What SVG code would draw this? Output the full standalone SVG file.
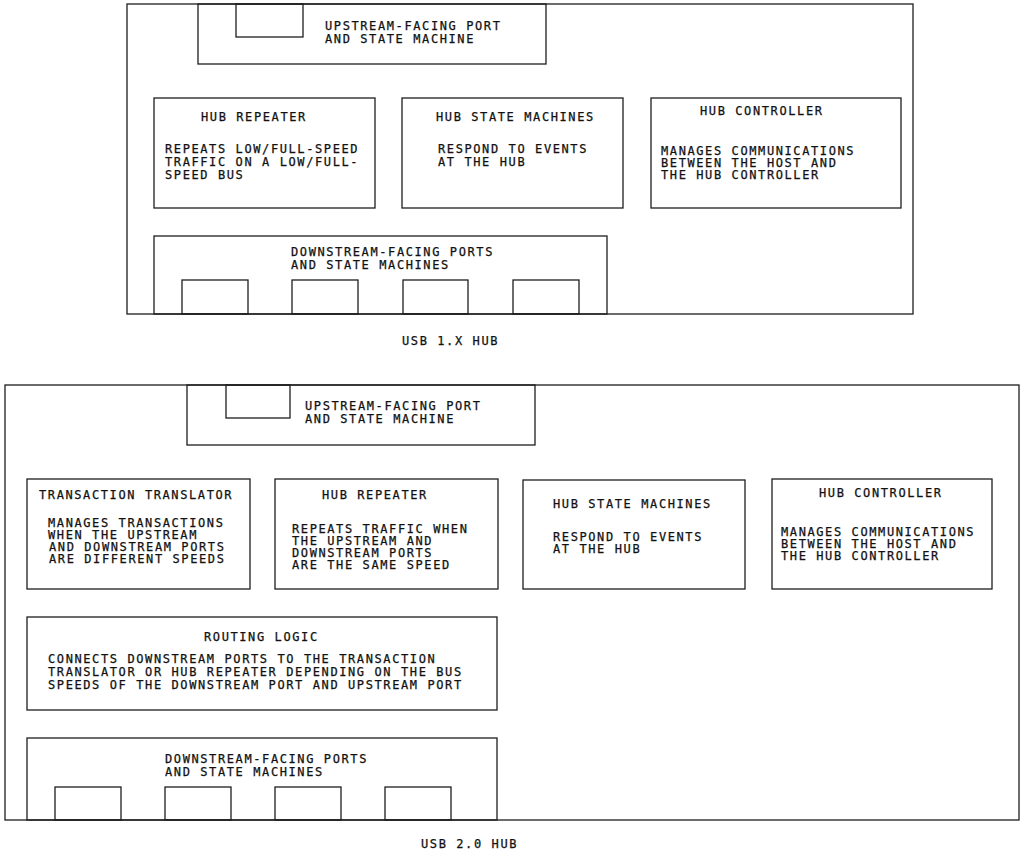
<svg xmlns="http://www.w3.org/2000/svg" width="1021" height="853" viewBox="0 0 1021 853">
<style>
rect{fill:none;stroke:#1e1e1e;stroke-width:1.3}
text{font-family:"DejaVu Sans Mono","Liberation Mono",monospace;font-size:12px;letter-spacing:1.6px;fill:#111;stroke:#111;stroke-width:0.25}
</style>
<rect x="0" y="0" width="1021" height="853" style="fill:#fff;stroke:none"/>
<g id="usb1-hub">
  <rect x="127" y="4" width="786" height="310"/>
  <g id="usb1-upstream">
    <rect x="198" y="4" width="348" height="60"/>
    <rect x="236" y="4" width="67" height="33"/>
    <text x="325" y="30">UPSTREAM-FACING PORT</text>
    <text x="325" y="43">AND STATE MACHINE</text>
  </g>
  <g id="usb1-repeater">
    <rect x="154" y="98" width="221" height="110"/>
    <text x="201" y="121">HUB REPEATER</text>
    <text x="165" y="153">REPEATS LOW/FULL-SPEED</text>
    <text x="165" y="166">TRAFFIC ON A LOW/FULL-</text>
    <text x="165" y="179">SPEED BUS</text>
  </g>
  <g id="usb1-state">
    <rect x="402" y="98" width="221" height="110"/>
    <text x="436" y="121">HUB STATE MACHINES</text>
    <text x="438" y="153">RESPOND TO EVENTS</text>
    <text x="438" y="166">AT THE HUB</text>
  </g>
  <g id="usb1-controller">
    <rect x="651" y="98" width="250" height="110"/>
    <text x="700" y="115">HUB CONTROLLER</text>
    <text x="661" y="155">MANAGES COMMUNICATIONS</text>
    <text x="661" y="167">BETWEEN THE HOST AND</text>
    <text x="661" y="179">THE HUB CONTROLLER</text>
  </g>
  <g id="usb1-downstream">
    <rect x="154" y="236" width="453" height="78"/>
    <text x="291" y="256">DOWNSTREAM-FACING PORTS</text>
    <text x="291" y="269">AND STATE MACHINES</text>
    <rect x="182" y="280" width="66" height="34"/>
    <rect x="292" y="280" width="66" height="34"/>
    <rect x="403" y="280" width="65" height="34"/>
    <rect x="513" y="280" width="66" height="34"/>
  </g>
  <text id="usb1-label" x="402" y="345">USB 1.X HUB</text>
</g>
<g id="usb2-hub">
  <rect x="5" y="385" width="1014" height="435"/>
  <g id="usb2-upstream">
    <rect x="187" y="385" width="348" height="60"/>
    <rect x="226" y="385" width="64" height="33"/>
    <text x="305" y="410">UPSTREAM-FACING PORT</text>
    <text x="305" y="423">AND STATE MACHINE</text>
  </g>
  <g id="usb2-translator">
    <rect x="27" y="479" width="223" height="110"/>
    <text x="39" y="499">TRANSACTION TRANSLATOR</text>
    <text x="48" y="527">MANAGES TRANSACTIONS</text>
    <text x="48" y="539">WHEN THE UPSTREAM</text>
    <text x="49" y="551">AND DOWNSTREAM PORTS</text>
    <text x="49" y="563">ARE DIFFERENT SPEEDS</text>
  </g>
  <g id="usb2-repeater">
    <rect x="275" y="479" width="223" height="110"/>
    <text x="322" y="499">HUB REPEATER</text>
    <text x="292" y="533">REPEATS TRAFFIC WHEN</text>
    <text x="292" y="545">THE UPSTREAM AND</text>
    <text x="292" y="557">DOWNSTREAM PORTS</text>
    <text x="292" y="569">ARE THE SAME SPEED</text>
  </g>
  <g id="usb2-state">
    <rect x="523" y="480" width="222" height="109"/>
    <text x="553" y="508">HUB STATE MACHINES</text>
    <text x="553" y="541">RESPOND TO EVENTS</text>
    <text x="553" y="553">AT THE HUB</text>
  </g>
  <g id="usb2-controller">
    <rect x="772" y="479" width="220" height="110"/>
    <text x="819" y="497">HUB CONTROLLER</text>
    <text x="781" y="536">MANAGES COMMUNICATIONS</text>
    <text x="781" y="548">BETWEEN THE HOST AND</text>
    <text x="781" y="560">THE HUB CONTROLLER</text>
  </g>
  <g id="usb2-routing">
    <rect x="27" y="617" width="470" height="93"/>
    <text x="204" y="641">ROUTING LOGIC</text>
    <text x="48" y="663">CONNECTS DOWNSTREAM PORTS TO THE TRANSACTION</text>
    <text x="48" y="676">TRANSLATOR OR HUB REPEATER DEPENDING ON THE BUS</text>
    <text x="48" y="689">SPEEDS OF THE DOWNSTREAM PORT AND UPSTREAM PORT</text>
  </g>
  <g id="usb2-downstream">
    <rect x="27" y="738" width="470" height="82"/>
    <text x="165" y="763">DOWNSTREAM-FACING PORTS</text>
    <text x="165" y="776">AND STATE MACHINES</text>
    <rect x="55" y="787" width="66" height="33"/>
    <rect x="165" y="787" width="66" height="33"/>
    <rect x="275" y="787" width="66" height="33"/>
    <rect x="385" y="787" width="66" height="33"/>
  </g>
  <text id="usb2-label" x="421" y="848">USB 2.0 HUB</text>
</g>
<g id="connectors"/>
</svg>
